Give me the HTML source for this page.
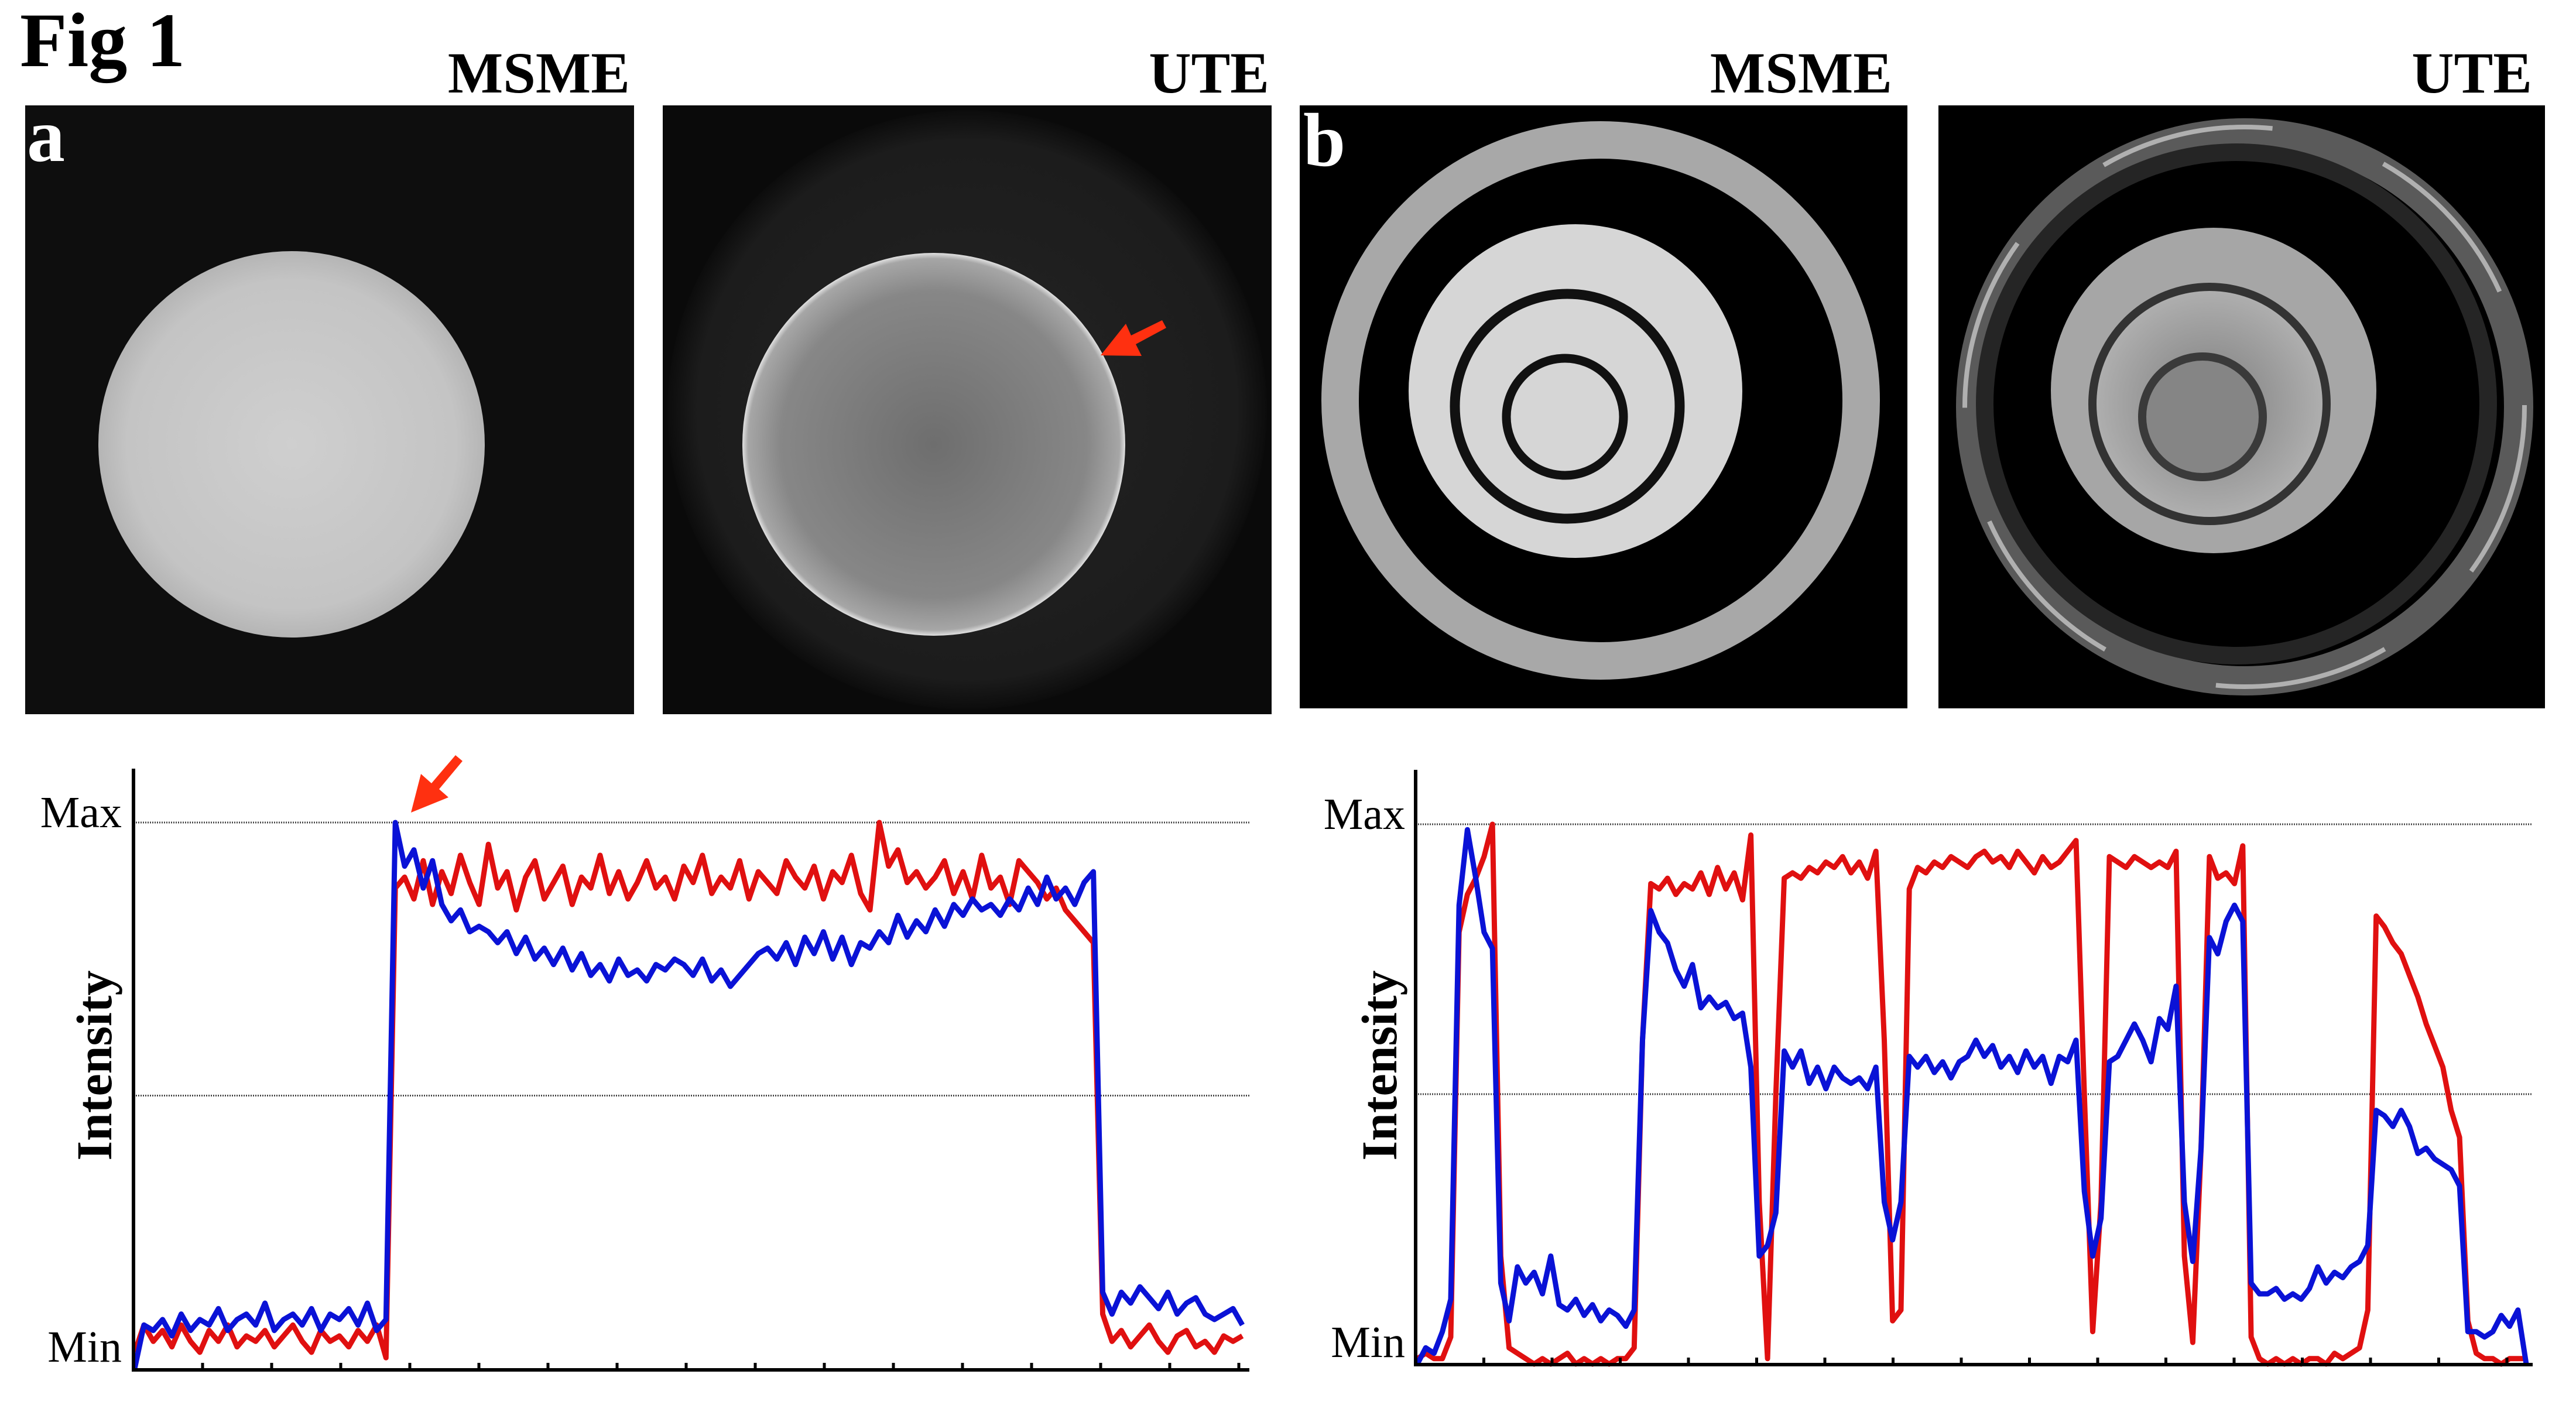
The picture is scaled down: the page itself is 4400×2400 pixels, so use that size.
<!DOCTYPE html>
<html><head><meta charset="utf-8"><title>Fig 1</title>
<style>
html,body{margin:0;padding:0;background:#fff;}
svg{display:block;}
text{font-family:"Liberation Serif",serif;}
</style></head>
<body>
<svg id="fig" width="4400" height="2400" viewBox="0 0 4400 2400" xmlns="http://www.w3.org/2000/svg">
<defs>
<radialGradient id="gA1" cx="0.5" cy="0.5" r="0.5"><stop offset="0" stop-color="#cfcfcf"/><stop offset="0.85" stop-color="#c4c4c4"/><stop offset="1" stop-color="#b5b5b5"/></radialGradient>
<radialGradient id="gA2" cx="0.5" cy="0.5" r="0.5"><stop offset="0" stop-color="#6e6e6e"/><stop offset="0.8" stop-color="#878787"/><stop offset="0.97" stop-color="#a6a6a6"/><stop offset="1" stop-color="#e0e0e0"/></radialGradient>
<radialGradient id="gHalo" cx="0.5" cy="0.5" r="0.5"><stop offset="0" stop-color="#242424"/><stop offset="0.9" stop-color="#1c1c1c"/><stop offset="1" stop-color="#0c0c0c"/></radialGradient>
<radialGradient id="gB2" cx="0.5" cy="0.5" r="0.5"><stop offset="0" stop-color="#7d7d7d"/><stop offset="1" stop-color="#b0b0b0"/></radialGradient>
</defs>

<text x="34" y="113" font-size="132" font-weight="bold">Fig 1</text>

<g>
<rect x="43" y="180" width="1040" height="1040" fill="#0e0e0e"/>
<circle cx="498" cy="759" r="330" fill="url(#gA1)"/>
</g>
<g>
<rect x="1132" y="180" width="1040" height="1040" fill="#0a0a0a"/>
<circle cx="1652" cy="700" r="512" fill="url(#gHalo)"/>
<circle cx="1595" cy="759" r="327" fill="url(#gA2)"/>
</g>
<polygon points="1880,607 1923,553 1932,573 1985,547 1992,560 1940,588 1950,608" fill="#ff3010"/>
<text x="1076" y="158" font-size="100" font-weight="bold" text-anchor="end">MSME</text>
<text x="2168" y="158" font-size="100" font-weight="bold" text-anchor="end">UTE</text>
<text x="46" y="275" font-size="130" font-weight="bold" fill="#fff">a</text>

<g>
<rect x="2220" y="180" width="1038" height="1030" fill="#000"/>
<circle cx="2734" cy="684" r="445" fill="none" stroke="#a8a8a8" stroke-width="64"/>
<circle cx="2691" cy="668" r="285" fill="#d6d6d6"/>
<circle cx="2677" cy="694" r="192" fill="none" stroke="#111" stroke-width="17"/>
<circle cx="2673" cy="712" r="100" fill="none" stroke="#111" stroke-width="15"/>
</g>
<g>
<rect x="3311" y="180" width="1036" height="1030" fill="#000"/>
<circle cx="3834" cy="695" r="468" fill="none" stroke="#5a5a5a" stroke-width="50"/>
<circle cx="3834" cy="695" r="478" fill="none" stroke="#b0b0b0" stroke-width="8" stroke-dasharray="300 200"/>
<circle cx="3820" cy="690" r="430" fill="none" stroke="#252525" stroke-width="30"/>
<circle cx="3781" cy="667" r="278" fill="#a6a6a6"/>
<circle cx="3774" cy="690" r="200" fill="url(#gB2)" stroke="#333" stroke-width="14"/>
<circle cx="3762" cy="712" r="103" fill="#858585" stroke="#3a3a3a" stroke-width="14"/>
</g>
<text x="3232" y="158" font-size="100" font-weight="bold" text-anchor="end">MSME</text>
<text x="4325" y="158" font-size="100" font-weight="bold" text-anchor="end">UTE</text>
<text x="2226" y="283" font-size="130" font-weight="bold" fill="#fff">b</text>

<polygon points="702,1388 719,1322 737,1338 778,1290 790,1300 750,1348 766,1362" fill="#ff3010"/>

<g id="chartA"></g>
<g id="chartB"></g>
</svg>
<script>
const aRed=[0.03,0.08,0.05,0.07,0.04,0.08,0.05,0.03,0.07,0.05,0.08,0.04,0.06,0.05,0.07,0.04,0.06,0.08,0.05,0.03,0.07,0.05,0.06,0.04,0.07,0.05,0.08,0.02,
0.88,0.90,0.86,0.93,0.85,0.91,0.87,0.94,0.89,0.85,0.96,0.88,0.91,0.84,0.90,0.93,0.86,0.89,0.92,0.85,0.90,0.88,0.94,0.87,0.91,0.86,0.89,0.93,0.88,0.90,0.86,0.92,0.89,0.94,0.87,0.90,0.88,0.93,0.86,0.91,0.89,0.87,0.93,0.90,0.88,0.92,0.86,0.91,0.89,0.94,0.87,0.84,1.00,0.92,0.95,0.89,0.91,0.88,0.90,0.93,0.87,0.91,0.86,0.94,0.88,0.90,0.85,0.93,0.91,0.89,0.86,0.88,0.84,0.82,0.80,0.78,
0.10,0.05,0.07,0.04,0.06,0.08,0.05,0.03,0.06,0.07,0.04,0.05,0.03,0.06,0.05,0.06];
const aBlue=[0.00,0.08,0.07,0.09,0.06,0.10,0.07,0.09,0.08,0.11,0.07,0.09,0.10,0.08,0.12,0.07,0.09,0.10,0.08,0.11,0.07,0.10,0.09,0.11,0.08,0.12,0.07,0.09,
1.00,0.92,0.95,0.88,0.93,0.85,0.82,0.84,0.80,0.81,0.80,0.78,0.80,0.76,0.79,0.75,0.77,0.74,0.77,0.73,0.76,0.72,0.74,0.71,0.75,0.72,0.73,0.71,0.74,0.73,0.75,0.74,0.72,0.75,0.71,0.73,0.70,0.72,0.74,0.76,0.77,0.75,0.78,0.74,0.79,0.76,0.80,0.75,0.79,0.74,0.78,0.77,0.80,0.78,0.83,0.79,0.82,0.80,0.84,0.81,0.85,0.83,0.86,0.84,0.85,0.83,0.86,0.84,0.88,0.85,0.90,0.86,0.88,0.85,0.89,0.91,
0.14,0.10,0.14,0.12,0.15,0.13,0.11,0.14,0.10,0.12,0.13,0.10,0.09,0.10,0.11,0.08];
const bRed=[0.01,0.02,0.01,0.01,0.05,0.80,0.87,0.90,0.94,1.00,0.20,0.03,0.02,
0.01,0.00,0.01,0.00,0.01,0.02,0.00,0.01,0.00,0.01,0.00,0.01,0.01,
0.03,0.60,0.89,0.88,0.90,0.87,0.89,0.88,0.91,0.87,0.92,0.88,0.91,0.86,
0.98,0.30,0.01,0.50,0.90,0.91,0.90,0.92,0.91,0.93,0.92,0.94,0.91,0.93,0.90,
0.95,0.60,0.08,0.10,0.88,0.92,0.91,0.93,0.92,0.94,0.93,0.92,0.94,0.95,0.93,0.94,0.92,0.95,0.93,0.91,0.94,0.92,0.93,0.95,
0.97,0.50,0.06,0.30,0.94,0.93,0.92,0.94,0.93,0.92,0.93,0.92,0.95,0.20,0.04,0.40,0.94,0.90,0.91,0.89,0.96,0.05,
0.01,0.00,0.01,0.00,0.01,0.00,0.01,0.01,0.00,0.02,0.01,0.02,0.03,0.10,
0.83,0.81,0.78,0.76,0.72,0.68,0.63,0.59,0.55,0.47,0.42,0.08,0.02,0.01,0.01,0.00,0.01,0.01,0.01];
const bBlue=[0.00,0.03,0.02,0.06,0.12,0.85,0.99,0.90,0.80,0.77,0.15,0.08,0.18,0.15,0.17,0.13,0.20,0.11,0.10,0.12,
0.09,0.11,0.08,0.10,0.09,0.07,0.10,0.60,0.84,0.80,0.78,0.73,0.70,0.74,0.66,0.68,0.66,0.67,0.64,0.65,
0.55,0.20,0.22,0.28,0.58,0.55,0.58,0.52,0.55,0.51,0.55,0.53,0.52,0.53,0.51,0.55,0.30,0.23,0.30,0.57,
0.55,0.57,0.54,0.56,0.53,0.56,0.57,0.60,0.57,0.59,0.55,0.57,0.54,0.58,0.55,0.57,0.52,0.57,0.56,0.60,
0.32,0.20,0.27,0.56,0.57,0.60,0.63,0.60,0.56,0.64,0.62,0.70,0.30,0.19,0.40,0.79,0.76,0.82,0.85,0.82,
0.15,0.13,0.13,0.14,0.12,0.13,0.12,0.14,0.18,0.15,0.17,0.16,0.18,0.19,0.22,0.47,0.46,0.44,0.47,0.44,
0.39,0.40,0.38,0.37,0.36,0.33,0.06,0.06,0.05,0.06,0.09,0.07,0.10,0.00];
const yTickLabels=["Min","Max"];
const axisTitle="Intensity";

const NS="http://www.w3.org/2000/svg";
function mk(parent,tag,attrs){const e=document.createElementNS(NS,tag);for(const k in attrs)e.setAttribute(k,attrs[k]);parent.appendChild(e);return e;}

function drawChart(g,cfg,red,blue){
  const xS=i=>cfg.px0+i/(red.length-1)*(cfg.px1-cfg.px0);
  const yS=v=>cfg.y0+v*(cfg.y1-cfg.y0);
  [1,0.5].forEach(v=>{
    const l=mk(g,'line',{x1:cfg.ax+4,x2:cfg.xEnd,y1:yS(v),y2:yS(v),stroke:'#444','stroke-width':3,'stroke-dasharray':'2 2'});
    
    
  });
  [[red,'#e01010','red-series'],[blue,'#0a12d6','blue-series']].forEach(([arr,col,nm])=>{
    const d=arr.map((v,i)=>(i?'L':'M')+xS(i).toFixed(1)+' '+yS(v).toFixed(1)).join(' ');
    const p=mk(g,'path',{d:d,fill:'none',stroke:col,'stroke-width':9,'stroke-linejoin':'round'});
    
    
  });
  const ya=mk(g,'line',{x1:cfg.ax,x2:cfg.ax,y1:cfg.axTop,y2:cfg.axBot+3,stroke:'#000','stroke-width':6});
  
  
  const xa=mk(g,'line',{x1:cfg.ax-3,x2:cfg.xEnd,y1:cfg.axBot,y2:cfg.axBot,stroke:'#000','stroke-width':6});
  
  
  for(let x=cfg.ax;x<=cfg.xEnd+2;x+=cfg.tick){
    const t=mk(g,'line',{x1:x,x2:x,y1:cfg.axBot,y2:cfg.axBot-12,stroke:'#000','stroke-width':5});
    
    
  }
  const mx=mk(g,'text',{x:cfg.lblX,y:cfg.y1+8,'font-size':76,'text-anchor':'end'});
  mx.textContent=yTickLabels[1];
  
  
  const mn=mk(g,'text',{x:cfg.lblX,y:cfg.y0-12,'font-size':76,'text-anchor':'end'});
  mn.textContent=yTickLabels[0];
  
  
  const ti=mk(g,'text',{x:cfg.titleX,y:1820,'font-size':86,'font-weight':'bold','text-anchor':'middle',transform:'rotate(-90 '+cfg.titleX+' 1820)'});
  ti.textContent=axisTitle;
  
  
}
drawChart(document.getElementById('chartA'),{px0:230,px1:2122,y0:2338,y1:1405,ax:228,axTop:1313,axBot:2340,xEnd:2134,tick:118,lblX:208,titleX:190},aRed,aBlue);
drawChart(document.getElementById('chartB'),{px0:2421,px1:4315,y0:2330,y1:1408,ax:2418,axTop:1315,axBot:2331,xEnd:4326,tick:116.5,lblX:2400,titleX:2385},bRed,bBlue);
</script>
</body></html>
